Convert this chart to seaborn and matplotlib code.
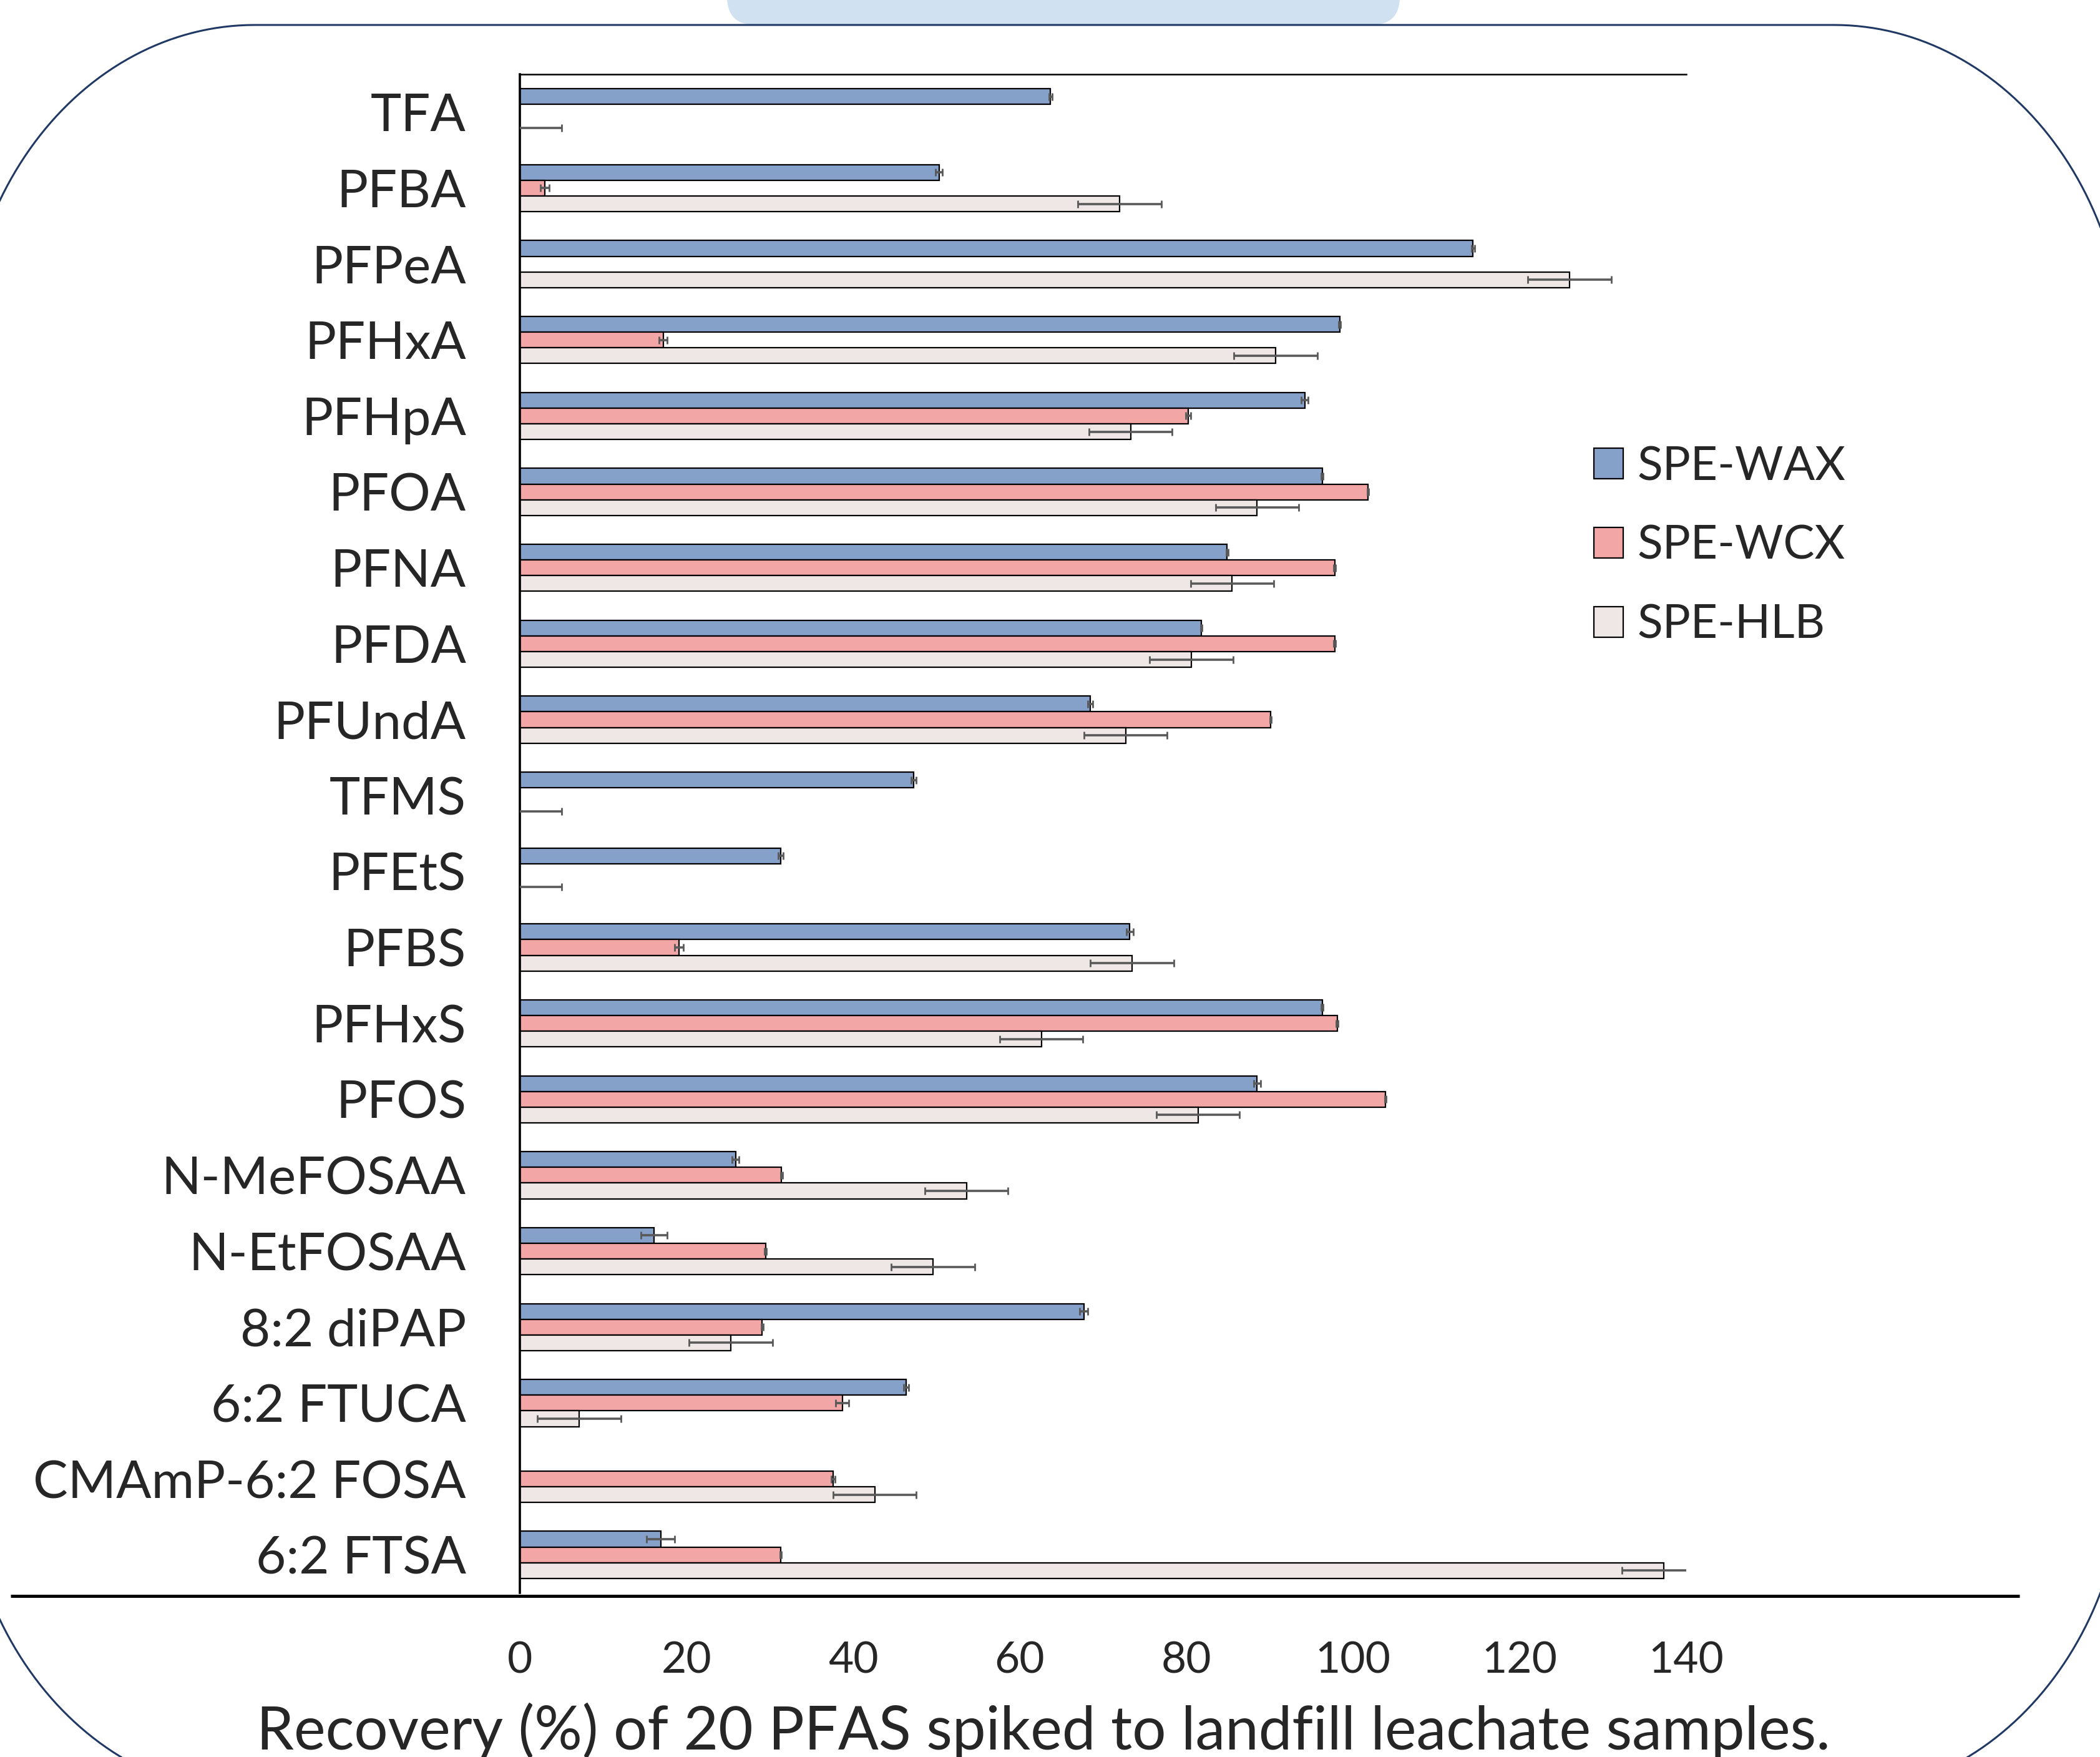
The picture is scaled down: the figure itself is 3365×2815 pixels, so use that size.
import numpy as np
import pandas as pd
import matplotlib
matplotlib.use("Agg")
import matplotlib.pyplot as plt
import seaborn as sns
from matplotlib.patches import Polygon, FancyBboxPatch

# data (recovery %, error = +/- SD)
compounds = ["TFA", "PFBA", "PFPeA", "PFHxA", "PFHpA", "PFOA", "PFNA", "PFDA",
             "PFUndA", "TFMS", "PFEtS", "PFBS", "PFHxS", "PFOS", "N-MeFOSAA",
             "N-EtFOSAA", "8:2 diPAP", "6:2 FTUCA", "CMAmP-6:2 FOSA", "6:2 FTSA"]
methods = ["SPE-WAX", "SPE-WCX", "SPE-HLB"]

wax = [63.7, 50.3, 114.4, 98.4, 94.2, 96.3, 84.9, 81.8, 68.5, 47.3,
       31.3, 73.2, 96.3, 88.5, 25.9, 16.1, 67.7, 46.4, np.nan, 16.9]
wax_err = [0.2, 0.4, 0.2, 0.1, 0.4, 0.1, 0.1, 0.1, 0.3, 0.3,
           0.3, 0.4, 0.1, 0.4, 0.4, 1.6, 0.5, 0.3, np.nan, 1.7]
wcx = [np.nan, 3.0, np.nan, 17.2, 80.2, 101.8, 97.8, 97.8, 90.1, np.nan,
       np.nan, 19.1, 98.1, 103.9, 31.4, 29.5, 29.1, 38.7, 37.6, 31.3]
wcx_err = [np.nan, 0.5, np.nan, 0.5, 0.3, 0.1, 0.1, 0.1, 0.1, np.nan,
           np.nan, 0.5, 0.1, 0.1, 0.1, 0.1, 0.1, 0.8, 0.2, 0.1]
hlb = [0.0, 72.0, 126.0, 90.7, 73.3, 88.5, 85.5, 80.6, 72.7, 0.0,
       0.0, 73.5, 62.6, 81.4, 53.6, 49.6, 25.3, 7.1, 42.6, 137.3]
hlb_err = [5.0, 5.0, 5.0, 5.0, 5.0, 5.0, 5.0, 5.0, 5.0, 5.0,
           5.0, 5.0, 5.0, 5.0, 5.0, 5.0, 5.0, 5.0, 5.0, 5.0]

xticks = [0, 20, 40, 60, 80, 100, 120, 140]
colors = ["#7A9DD4", "#FF9999", "#F0E6E4"]

W, H = 3365, 2815
BAR_W = 0.62

sns.set_style("white")
plt.rcParams["font.family"] = ["Lato", "DejaVu Sans"]

df = pd.DataFrame({
    "compound": compounds * 3,
    "method": [m for m in methods for _ in compounds],
    "recovery": wax + wcx + hlb,
})

fig = plt.figure(figsize=(W / 100, H / 100), dpi=100)

# background layer in pixel coords: rounded frame + tab
bg = fig.add_axes([0, 0, 1, 1], zorder=0)
bg.set_xlim(0, W)
bg.set_ylim(H, 0)
bg.axis("off")

tab = FancyBboxPatch((1165, -60), 1078, 100, boxstyle="round,pad=0,rounding_size=45",
                     facecolor="#D0E1F2", edgecolor="none")
bg.add_patch(tab)


def rounded_frame(L, T, R, B, rx, ry, n=60):
    pts = []
    t = np.linspace(np.pi, 1.5 * np.pi, n)
    pts += list(zip(L + rx + rx * np.cos(t), T + ry + ry * np.sin(t)))
    t = np.linspace(1.5 * np.pi, 2 * np.pi, n)
    pts += list(zip(R - rx + rx * np.cos(t), T + ry + ry * np.sin(t)))
    t = np.linspace(0, 0.5 * np.pi, n)
    pts += list(zip(R - rx + rx * np.cos(t), B - ry + ry * np.sin(t)))
    t = np.linspace(0.5 * np.pi, np.pi, n)
    pts += list(zip(L + rx + rx * np.cos(t), B - ry + ry * np.sin(t)))
    return np.array(pts)


frame = Polygon(rounded_frame(-60, 40, 3407, 2876, 468, 550), closed=True,
                facecolor="none", edgecolor="#1F3864", linewidth=2.2)
bg.add_patch(frame)
bg.plot([17, 3236], [2557, 2557], color="black", linewidth=3.6, solid_capstyle="butt")

# main chart
ax = fig.add_axes([833 / W, 1 - 2552 / H, (2702 - 833) / W, (2552 - 119) / H], zorder=1)
ax.patch.set_alpha(0)

sns.barplot(data=df, y="compound", x="recovery", hue="method", order=compounds,
            hue_order=methods, palette=colors, width=BAR_W, errorbar=None,
            edgecolor="black", linewidth=1.6, orient="h", ax=ax)

# error bars at the dodged bar centres
for j, (vals, errs) in enumerate([(wax, wax_err), (wcx, wcx_err), (hlb, hlb_err)]):
    offs = -BAR_W / 2 + BAR_W / 3 * (j + 0.5)
    ypos = np.arange(len(compounds)) + offs
    ax.errorbar(vals, ypos, xerr=errs, fmt="none", ecolor="#595959",
                elinewidth=2.6, capsize=4.5, capthick=2.0, zorder=3)

ax.set_xlim(0, 140)
ax.set_ylim(len(compounds) - 0.5, -0.5)
ax.set_xticks(xticks)
ax.set_xticklabels([str(v) for v in xticks])
ax.tick_params(axis="x", length=0, pad=56, labelsize=50)
ax.tick_params(axis="y", length=0, pad=62, labelsize=60)
ax.set_xlabel("")
ax.set_ylabel("")

for side in ["right", "bottom"]:
    ax.spines[side].set_visible(False)
ax.spines["left"].set_linewidth(2.6)
ax.spines["top"].set_linewidth(1.8)
for side in ["left", "top"]:
    ax.spines[side].set_color("black")

handles, labels = ax.get_legend_handles_labels()
ax.legend(handles, labels, loc="upper left", bbox_to_anchor=(2554 / W, 1 - 713 / H),
          bbox_transform=fig.transFigure, frameon=False, fontsize=54,
          handlelength=0.63, handleheight=0.63, handletextpad=0.3,
          labelspacing=0.77, borderpad=0, borderaxespad=0)

fig.text(0.497, 12 / H, "Recovery (%) of 20 PFAS spiked to landfill leachate samples.",
         ha="center", va="baseline", fontsize=69)

fig.savefig("out.png", dpi=100)
